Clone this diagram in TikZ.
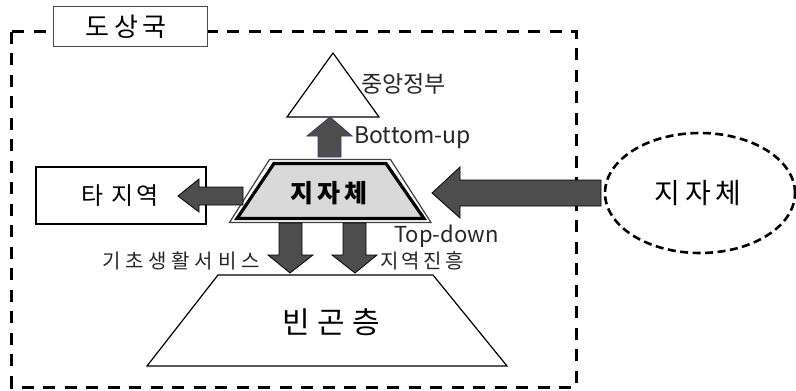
\documentclass[tikz,border=0pt]{standalone}
\usepackage{fontspec}
\setmainfont{Noto Sans CJK KR}
\usetikzlibrary{shapes.geometric}
\definecolor{arrowgray}{HTML}{4D4D4D}
\definecolor{boxgray}{HTML}{D9D9D9}
\definecolor{navyedge}{HTML}{3C3C6E}
\newcommand{\fsz}[2]{\fontsize{#1}{#1}\selectfont\addfontfeature{LetterSpace=#2}}
\tikzset{
  blockarrow/.style={fill=arrowgray, draw=black, line width=0.8pt, line join=miter},
  lbl/.style={inner sep=0pt, anchor=west, text=black!85},
}
\begin{document}
\begin{tikzpicture}[x=1pt,y=-1pt]
\useasboundingbox (0,0) rectangle (796,391);
% outer dashed frame
\draw[line width=3pt, dash pattern=on 12pt off 9.5pt] (11.5,31.5) rectangle (576,387);
\node[draw=black!70, line width=1pt, fill=white, minimum width=154pt, minimum height=40pt, inner sep=0pt] (dosang) at (130,26.5) {};
\node[font=\fsz{26}{18}, inner sep=0pt] (dosangtxt) at (126,26.5) {도상국};

% central government triangle
\coordinate (tA) at (333,53);
\coordinate (tL) at (287,117);
\coordinate (tR) at (379,117);
\draw[line width=1.2pt, line join=miter] (tA) -- (tL) -- (tR) -- cycle;
\node[lbl, font=\fsz{23}{0}] (jungang) at (361,84) {중앙정부};

% local government trapezoid (double border)
\draw[line width=1.2pt, draw=black!75] (269.5,159.5) -- (390.5,159.5) -- (431,222.5) -- (229.5,222.5) -- cycle;
\draw[line width=3.2pt, fill=boxgray, line join=miter] (274,163.5) -- (386,163.5) -- (424,218.5) -- (237,218.5) -- cycle;
\node[font=\bfseries\fsz{25}{16}] (jijache) at (329,193) {지자체};

% up arrow
\draw[blockarrow, draw=navyedge] (318,157) -- (318,136) -- (307,136) -- (330,117) -- (352,136) -- (341,136) -- (341,157) -- cycle;
\node[lbl, font=\fsz{23}{0}] (bu) at (354,138) {Bottom-up};

% other region box
\node[draw=black, line width=1.2pt, minimum width=170pt, minimum height=57pt, inner sep=0pt] (other) at (121,195.5) {};
\node[font=\fsz{24}{13}, inner sep=0pt] (othertxt) at (120,195.5) {타 지역};

% left arrow
\draw[blockarrow] (243,187) -- (199,187) -- (199,179) -- (178,196) -- (199,212) -- (199,205) -- (243,205) -- cycle;

% external local government
\node[draw=black, line width=2.6pt, dash pattern=on 8pt off 4.5pt, ellipse, minimum width=190pt, minimum height=120pt] (ext) at (700,193) {};
\node[font=\fsz{28}{18}, inner sep=0pt] (exttxt) at (698,193) {지자체};

% right arrow
\draw[blockarrow] (601,180) -- (460,180) -- (460,167) -- (432,193) -- (460,218) -- (460,206) -- (601,206) -- cycle;

% down arrows
\draw[blockarrow] (279,223) -- (302,223) -- (302,255) -- (313,255) -- (290,273) -- (268,255) -- (279,255) -- cycle;
\draw[blockarrow] (343,223) -- (366,223) -- (366,255) -- (377,255) -- (355,273) -- (332,255) -- (343,255) -- cycle;
\node[lbl, font=\fsz{22}{0}] (td) at (394,236) {Top-down};
\node[lbl, font=\fsz{20}{24}] (kicho) at (102,261) {기초생활서비스};
\node[lbl, font=\fsz{20}{17}] (jiyeok) at (380,261) {지역진흥};

% poverty trapezoid
\draw[line width=1.2pt, line join=miter] (218,275) -- (433,275) -- (507,366) -- (147,366) -- cycle;
\node[font=\fsz{30}{24}] (bingon) at (331,322) {빈곤층};
\end{tikzpicture}
\end{document}
